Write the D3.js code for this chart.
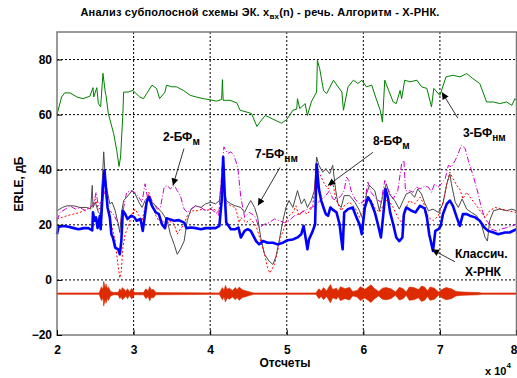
<!DOCTYPE html>
<html>
<head>
<meta charset="utf-8">
<script src="https://cdn.jsdelivr.net/npm/d3@7/dist/d3.min.js"></script>
<style>
    body { margin: 0; background: #fff; }
    text { font-family: "Liberation Sans", Arial, sans-serif; }
</style>
</head>
<body>
<script>
    // x in units of 10^4 samples, y in dB
    var xTicks = [2, 3, 4, 5, 6, 7, 8];
    var yTicks = [-20, 0, 20, 40, 60, 80];

    // 3-БФнм
    var green = [[2.00,60],[2.06,66.4],[2.10,67.9],[2.17,67.9],[2.26,66.4],[2.34,65.8],[2.43,66.7],[2.47,69.8],[2.48,66.4],[2.52,69.8],[2.54,64],[2.57,62.8],[2.60,75],[2.63,68.2],[2.64,67],[2.67,60.4],[2.74,53.1],[2.78,47],[2.81,41.2],[2.83,44.6],[2.86,60.4],[2.87,68.2],[2.93,68.2],[2.99,68.8],[3.08,66.4],[3.13,65.8],[3.17,67.6],[3.24,70.7],[3.30,69.5],[3.34,65.8],[3.41,68.2],[3.43,70.7],[3.50,70.1],[3.56,70.1],[3.65,68.8],[3.74,67],[3.82,66.4],[3.91,65.8],[4.00,65.4],[4.08,64.9],[4.15,65.5],[4.16,72.7],[4.17,65.2],[4.26,65.2],[4.35,64.2],[4.39,61.6],[4.48,60.9],[4.54,60.4],[4.61,55.7],[4.65,57.3],[4.72,59.7],[4.78,58.9],[4.87,57.7],[4.93,56.9],[5.00,58.2],[5.08,61.6],[5.13,62],[5.14,65.8],[5.17,62.2],[5.24,64],[5.27,59.7],[5.32,64.6],[5.39,68.2],[5.40,79.7],[5.43,76.7],[5.48,68.8],[5.52,67.6],[5.61,72.5],[5.67,70.1],[5.72,68.2],[5.74,61.6],[5.80,70.1],[5.87,72.5],[5.93,71.3],[5.98,72.5],[6.04,70.1],[6.11,70.7],[6.16,66.4],[6.22,61.6],[6.25,57.3],[6.28,72.5],[6.33,68.8],[6.39,64.6],[6.43,64],[6.48,68.8],[6.50,65.8],[6.54,72.5],[6.61,71.9],[6.70,72.5],[6.76,70.1],[6.83,69.5],[6.89,62.8],[6.92,69.5],[7.00,67],[7.08,73.7],[7.17,74.3],[7.26,73.7],[7.35,74.9],[7.43,73.1],[7.52,71.3],[7.61,64.6],[7.70,64.6],[7.78,64],[7.87,64.6],[7.94,63.4],[7.98,65.8],[8.00,65.2]];

    // Классич. X-РНК
    var blue = [[2.00,16.6],[2.02,19.3],[2.09,19.6],[2.15,19.3],[2.22,18.8],[2.28,18.4],[2.35,18.8],[2.41,18.8],[2.46,18.0],[2.47,24.5],[2.49,21.5],[2.51,22.7],[2.53,18.8],[2.56,23.3],[2.57,18.4],[2.60,33.7],[2.62,39.8],[2.64,33],[2.66,26.3],[2.69,22.7],[2.71,16.6],[2.73,15.4],[2.76,11.7],[2.80,11.1],[2.82,9.3],[2.84,14.1],[2.86,25.1],[2.89,23.9],[2.92,22.1],[2.97,23.3],[3.01,22.7],[3.04,21.5],[3.09,22.1],[3.12,17.8],[3.15,23.9],[3.17,28.2],[3.20,30],[3.24,26.9],[3.29,24.5],[3.33,23.9],[3.37,20.2],[3.41,18.8],[3.43,22.4],[3.46,22.1],[3.53,21.5],[3.59,21.7],[3.66,20.8],[3.69,18.8],[3.75,19],[3.81,18.8],[3.88,18.4],[3.94,18.8],[4.01,18.8],[4.07,18.8],[4.12,19.6],[4.15,28.8],[4.17,44.6],[4.19,31.2],[4.21,20.8],[4.27,18.4],[4.33,18.4],[4.37,19],[4.40,15.4],[4.45,17.8],[4.49,18.4],[4.53,17.8],[4.60,14.1],[4.64,12.9],[4.69,14.1],[4.75,13.5],[4.82,13.5],[4.88,12.9],[4.95,13.5],[5.01,14.4],[5.08,14.7],[5.14,15.4],[5.19,16.6],[5.22,19.6],[5.25,14.7],[5.27,11.1],[5.29,14.7],[5.34,17.8],[5.37,20.2],[5.39,42],[5.42,33],[5.45,28.8],[5.48,26.3],[5.51,23.9],[5.54,23.3],[5.57,26.3],[5.60,25.5],[5.65,24.5],[5.69,20.2],[5.71,15.4],[5.73,11.1],[5.75,24.5],[5.80,25.7],[5.86,26.3],[5.91,22.7],[5.95,20.2],[5.98,16.6],[6.02,26.3],[6.06,30],[6.10,28.2],[6.15,24.5],[6.19,20.2],[6.23,15.4],[6.27,26.3],[6.29,33],[6.32,30],[6.35,24.5],[6.39,20.2],[6.43,15.4],[6.47,14.1],[6.51,15.4],[6.53,23.9],[6.56,26.3],[6.63,25.1],[6.68,24.5],[6.74,26.9],[6.80,26],[6.83,22.7],[6.86,16.6],[6.89,12.9],[6.91,10.5],[6.94,17.8],[6.98,18.4],[7.01,19.6],[7.04,23.9],[7.09,27.6],[7.13,28.8],[7.17,26.9],[7.22,22.7],[7.26,19.6],[7.30,23.9],[7.35,23.9],[7.39,23.3],[7.46,22.7],[7.52,21.5],[7.58,19],[7.63,17.8],[7.70,17.2],[7.76,16.6],[7.85,17.2],[7.91,17.2],[8.00,18.4]];

    // 7-БФнм
    var gray = [[2.00,25.1],[2.07,26.3],[2.13,26.9],[2.22,26.9],[2.30,26.3],[2.39,26.3],[2.44,25.7],[2.46,34.3],[2.47,26.3],[2.50,28.2],[2.54,24.5],[2.57,23.9],[2.61,46.5],[2.63,37.3],[2.65,33],[2.69,27.6],[2.72,28.2],[2.76,25.1],[2.80,20.2],[2.82,17.2],[2.84,23.9],[2.87,28.8],[2.91,30],[2.98,32.4],[3.02,31.2],[3.07,28.2],[3.11,26.3],[3.15,28.8],[3.20,30.6],[3.24,28.2],[3.31,26.3],[3.37,24.5],[3.44,21.5],[3.48,16.6],[3.53,12.9],[3.57,9.3],[3.61,11.1],[3.66,14.1],[3.70,21.5],[3.75,25.7],[3.81,26.9],[3.88,26.3],[3.94,27.6],[4.01,28.2],[4.07,27.6],[4.12,28.8],[4.16,38.5],[4.18,33.7],[4.21,28.8],[4.27,27.6],[4.33,26.9],[4.40,26.3],[4.45,24.5],[4.49,26.9],[4.53,28.8],[4.58,26.3],[4.62,22.7],[4.66,15.4],[4.71,9.3],[4.77,6.8],[4.82,5.6],[4.86,8.6],[4.90,14.1],[4.95,21.5],[4.99,26.3],[5.03,28.8],[5.08,26.3],[5.14,32.4],[5.19,27.6],[5.23,29.4],[5.27,26.3],[5.32,28.8],[5.36,32.4],[5.39,44.6],[5.42,41.6],[5.47,39.1],[5.51,40.4],[5.56,38.5],[5.60,41.6],[5.64,32.4],[5.67,27.6],[5.71,26.3],[5.75,30.6],[5.82,30.6],[5.89,28.2],[5.95,25.1],[6.00,21.5],[6.04,31.2],[6.08,34.3],[6.15,32.4],[6.21,25.1],[6.27,32.4],[6.30,34.9],[6.34,31.2],[6.41,28.8],[6.47,25.7],[6.52,28.8],[6.56,31.2],[6.61,31.8],[6.67,30],[6.71,33],[6.76,31.2],[6.80,28],[6.85,25.1],[6.91,25.7],[6.98,24.5],[7.04,27.6],[7.09,34.9],[7.13,38.5],[7.15,34.9],[7.20,28.2],[7.24,26.3],[7.29,29.4],[7.35,25.7],[7.41,24.5],[7.48,23.3],[7.54,20.2],[7.59,15.4],[7.62,14.1],[7.65,21.5],[7.70,25.1],[7.78,25.7],[7.87,25.1],[7.94,25.7],[8.00,25.1]];

    // 8-БФм
    var red = [[2.00,22.1],[2.07,22.7],[2.13,23.3],[2.22,23.9],[2.30,24.5],[2.39,25.7],[2.46,26.9],[2.50,29.4],[2.54,25.7],[2.59,26.3],[2.62,39.1],[2.64,30],[2.67,24.5],[2.72,19],[2.76,14.1],[2.79,6.8],[2.82,0.7],[2.84,3.2],[2.86,11.7],[2.89,16.6],[2.94,20.2],[2.98,23.9],[3.02,25.7],[3.07,23.3],[3.11,21.5],[3.15,26.3],[3.20,31.8],[3.24,27.6],[3.29,23.3],[3.33,21.5],[3.37,22.1],[3.42,19],[3.46,21.5],[3.53,20.2],[3.57,16.6],[3.61,18.4],[3.66,20.2],[3.70,23.3],[3.77,25.1],[3.83,25.1],[3.90,25.7],[3.96,25.1],[4.03,26.3],[4.09,24.5],[4.14,26.9],[4.17,36.1],[4.20,28.2],[4.27,26.9],[4.33,26.3],[4.38,20.8],[4.40,22.7],[4.47,20.8],[4.53,22.1],[4.60,19.6],[4.66,14.1],[4.71,9.3],[4.75,4.4],[4.78,2.5],[4.84,5.6],[4.88,10.5],[4.92,15.4],[4.97,19],[5.01,22.7],[5.08,24.5],[5.12,26.9],[5.16,23.3],[5.21,25.1],[5.27,23.9],[5.34,26.9],[5.39,41],[5.45,37.3],[5.49,34.9],[5.54,33],[5.60,35.5],[5.64,29.4],[5.67,27.6],[5.71,25.1],[5.75,26.9],[5.82,28.2],[5.89,26.3],[5.95,22.7],[6.00,25.1],[6.04,29.4],[6.08,30],[6.15,26.3],[6.21,24.5],[6.28,28.2],[6.32,29.4],[6.39,26.3],[6.45,22.7],[6.50,20.8],[6.54,25.1],[6.60,28.8],[6.67,27.6],[6.74,30],[6.80,27],[6.85,22.7],[6.91,21.5],[6.98,23.3],[7.04,28.2],[7.09,34.9],[7.13,39.1],[7.17,36.8],[7.22,34.3],[7.26,33],[7.30,29.4],[7.35,31.8],[7.41,29.4],[7.48,26.9],[7.54,24.5],[7.59,22.7],[7.65,25.1],[7.72,26.3],[7.81,25.7],[7.89,25.1],[8.00,24.5]];

    // 2-БФм
    var magenta = [[2.00,21.5],[2.04,24.5],[2.11,25.7],[2.17,26.9],[2.24,25.7],[2.30,26.3],[2.37,25.1],[2.44,26.3],[2.48,27.6],[2.51,31.8],[2.54,26.9],[2.59,28.8],[2.63,32.4],[2.67,25.1],[2.72,24.5],[2.78,21.5],[2.83,20.8],[2.87,26.3],[2.91,31.8],[2.98,32.4],[3.04,31.2],[3.11,28.2],[3.15,34.9],[3.18,30],[3.20,31.2],[3.24,28.8],[3.31,25.7],[3.35,26.3],[3.40,33.7],[3.44,34.3],[3.48,33],[3.53,34.3],[3.57,32.4],[3.61,30.6],[3.66,25.7],[3.70,24.5],[3.75,25.7],[3.81,26.9],[3.88,26.3],[3.94,25.1],[4.01,25.7],[4.07,24.5],[4.11,23.3],[4.16,42.2],[4.18,48.3],[4.23,45.9],[4.27,46.5],[4.31,45.2],[4.36,41],[4.40,30],[4.45,22.7],[4.51,24.5],[4.58,23.3],[4.64,19],[4.71,20.2],[4.77,20.8],[4.84,22.1],[4.90,21.5],[4.97,20.8],[5.03,21.5],[5.10,23.3],[5.16,23.9],[5.23,25.1],[5.32,26.3],[5.38,26.9],[5.43,28.8],[5.49,30],[5.56,32.4],[5.60,29.5],[5.65,28.8],[5.71,30.6],[5.75,32.4],[5.78,37.3],[5.81,36.1],[5.84,32.4],[5.89,29.4],[5.95,27.6],[6.02,28.8],[6.06,35.5],[6.10,31.8],[6.17,29.4],[6.23,28.2],[6.28,36.1],[6.32,33],[6.39,29.4],[6.45,32.4],[6.50,42.2],[6.53,43.4],[6.55,32.4],[6.60,32.4],[6.65,31.8],[6.69,33.7],[6.74,33],[6.80,34],[6.85,33.7],[6.89,31.8],[6.93,34.9],[6.98,33.7],[7.02,34.9],[7.07,36.8],[7.11,41.6],[7.15,41],[7.20,43.4],[7.24,45.9],[7.28,48.9],[7.33,47.7],[7.37,43.4],[7.44,37.3],[7.50,31.2],[7.54,26.3],[7.59,22.1],[7.63,20.8],[7.67,18.4],[7.74,17.8],[7.80,18.4],[7.87,19],[7.94,19.6],[8.00,20.2]];

    // входной речевой сигнал: огибающая вокруг уровня -5 дБ
    var speechLevel = -5;
    var speech = [[2.00,0.25],[2.55,0.25],[2.58,2.5],[2.60,1.5],[2.61,4.5],[2.63,2.0],[2.64,3.5],[2.66,1.6],[2.67,2.5],[2.70,0.8],[2.74,0.4],[2.80,0.5],[2.82,1.8],[2.84,1.0],[2.85,2.2],[2.88,1.5],[2.90,0.8],[2.92,1.8],[2.95,0.6],[2.97,1.8],[2.99,1.5],[3.01,0.4],[3.13,0.4],[3.16,1.8],[3.19,1.0],[3.21,2.6],[3.23,1.4],[3.26,1.5],[3.29,0.4],[4.12,0.25],[4.16,2.2],[4.18,1.2],[4.20,3.0],[4.22,1.6],[4.25,2.0],[4.29,1.2],[4.33,2.2],[4.35,1.4],[4.38,2.4],[4.42,1.4],[4.45,1.2],[4.52,0.6],[4.57,0.25],[5.38,0.25],[5.42,1.8],[5.45,1.0],[5.48,2.2],[5.52,1.0],[5.55,2.4],[5.57,3.3],[5.60,1.5],[5.65,2.0],[5.67,1.0],[5.70,2.5],[5.76,1.8],[5.82,2.3],[5.86,0.8],[5.92,1.2],[5.96,2.5],[6.02,1.6],[6.07,2.6],[6.10,3.2],[6.14,2.0],[6.20,0.8],[6.25,2.0],[6.30,2.2],[6.36,1.8],[6.42,0.6],[6.47,2.3],[6.52,1.8],[6.56,0.6],[6.60,2.4],[6.66,2.2],[6.72,1.5],[6.76,2.8],[6.80,2.4],[6.84,1.0],[6.87,2.4],[6.93,2.0],[6.98,0.6],[7.03,1.6],[7.08,2.2],[7.15,1.8],[7.21,0.8],[7.30,0.6],[7.50,0.4],[7.55,0.25],[8.00,0.25]];

    // подписи: текст, индекс, точка текста, начало и конец стрелки
    var labels = [
        {main: "2-БФ", sub: "м",  at: [3.384, 50.6], from: [3.658, 47.7], to: [3.514, 34.3]},
        {main: "7-БФ", sub: "нм", at: [4.585, 44.1], from: [4.911, 40.8], to: [4.624, 27.0]},
        {main: "8-БФ", sub: "м",  at: [6.125, 48.8], from: [6.125, 46.3], to: [5.538, 34.3]},
        {main: "3-БФ", sub: "нм", at: [7.300, 51.7], from: [7.235, 58.7], to: [7.026, 68.1]},
        {main: "Классич.", sub: "", at: [7.196, 8.1], from: [7.196, 6.6], to: [6.896, 11.0]},
        {main: "X-РНК", sub: "", at: [7.326, 1.6], from: null, to: null}
    ];

    var width = 517, height = 378;
    var margin = {top: 32, right: 0.5, bottom: 43, left: 57};

    var svg = d3.select("body").append("svg")
        .attr("width", width)
        .attr("height", height);

    var x = d3.scaleLinear().domain([2, 8]).range([margin.left, width - margin.right]);
    var y = d3.scaleLinear().domain([-20, 90]).range([height - margin.bottom, margin.top]);

    svg.append("defs").append("marker")
        .attr("id", "arrow")
        .attr("viewBox", "0 0 10 10")
        .attr("refX", 10).attr("refY", 5)
        .attr("markerWidth", 9).attr("markerHeight", 7)
        .attr("markerUnits", "userSpaceOnUse")
        .attr("orient", "auto")
        .append("path")
        .attr("d", "M0,0 L10,5 L0,10 Z")
        .attr("fill", "#000");

    //grid
    svg.append("g")
        .selectAll("line")
        .data(xTicks.slice(1, -1))
        .enter().append("line")
        .attr("x1", d => x(d)).attr("x2", d => x(d))
        .attr("y1", y(90)).attr("y2", y(-20))
        .attr("stroke", "#000").attr("stroke-dasharray", "2,2");

    svg.append("g")
        .selectAll("line")
        .data(yTicks.slice(1))
        .enter().append("line")
        .attr("x1", x(2)).attr("x2", x(8))
        .attr("y1", d => y(d)).attr("y2", d => y(d))
        .attr("stroke", "#000").attr("stroke-dasharray", "2,2");

    //speech
    svg.append("path")
        .datum(speech)
        .attr("fill", "#dd2a00")
        .attr("stroke", "#dd2a00")
        .attr("stroke-width", 0.6)
        .attr("d", d3.area()
            .x(d => x(d[0]))
            .y0(d => y(speechLevel - d[1]))
            .y1(d => y(speechLevel + d[1])));

    var line = d3.line().x(d => x(d[0])).y(d => y(d[1]));

    var series = [
        {data: green, color: "#008000", w: 1, dash: null},
        {data: gray, color: "#4a4a4a", w: 1, dash: null},
        {data: red, color: "#ff0000", w: 1, dash: "2,2"},
        {data: magenta, color: "#cc00cc", w: 1, dash: "6,2,1,2"},
        {data: blue, color: "#0000ff", w: 2.6, dash: null}
    ];

    svg.append("g")
        .selectAll("path")
        .data(series)
        .enter().append("path")
        .attr("d", d => line(d.data))
        .attr("fill", "none")
        .attr("stroke", d => d.color)
        .attr("stroke-width", d => d.w)
        .attr("stroke-dasharray", d => d.dash)
        .attr("stroke-linejoin", "round");

    //axes box
    svg.append("rect")
        .attr("x", x(2)).attr("y", y(90))
        .attr("width", x(8) - x(2)).attr("height", y(-20) - y(90))
        .attr("fill", "none")
        .attr("stroke", "#7a7a7a")
        .attr("stroke-width", 1.5);

    var xAxis = svg.append("g")
        .attr("transform", "translate(0," + y(-20) + ")")
        .call(d3.axisBottom(x).tickValues(xTicks).tickSize(-5).tickPadding(10).tickFormat(d3.format("d")));
    var yAxis = svg.append("g")
        .attr("transform", "translate(" + x(2) + ",0)")
        .call(d3.axisLeft(y).tickValues(yTicks).tickSize(-5).tickPadding(5));

    [xAxis, yAxis].forEach(function(a) {
        a.select(".domain").remove();
        a.selectAll("line").attr("stroke", "#000");
        a.selectAll("text")
            .attr("fill", "#000")
            .style("font-size", "12px")
            .style("font-weight", "bold")
            .style("font-family", "Liberation Sans, Arial, sans-serif");
    });
    // последняя метка в оригинале прижата к правому краю
    xAxis.selectAll(".tick text").filter(d => d == 8).attr("dx", -3);

    //labels with arrows
    labels.forEach(function(l) {
        if (l.from) {
            svg.append("line")
                .attr("x1", x(l.from[0])).attr("y1", y(l.from[1]))
                .attr("x2", x(l.to[0])).attr("y2", y(l.to[1]))
                .attr("stroke", "#000").attr("stroke-width", 0.8)
                .attr("marker-end", "url(#arrow)");
        }
        var t = svg.append("text")
            .attr("x", x(l.at[0])).attr("y", y(l.at[1]))
            .style("font-size", "12px")
            .style("font-weight", "bold");
        t.append("tspan").text(l.main);
        if (l.sub) {
            t.append("tspan").attr("dy", 4).style("font-size", "10px").text(l.sub);
        }
    });

    //title
    var title = svg.append("text")
        .attr("x", 260).attr("y", 16)
        .attr("text-anchor", "middle")
        .style("font-size", "11px")
        .style("font-weight", "bold")
        .style("letter-spacing", "0.2px");
    title.append("tspan").text("Анализ субполосной схемы ЭК. x");
    title.append("tspan").attr("dy", 3).style("font-size", "8px").text("вх");
    title.append("tspan").attr("dy", -3).text("(n) - речь. Алгоритм - X-РНК.");

    svg.append("text")
        .attr("x", 285).attr("y", 367)
        .attr("text-anchor", "middle")
        .style("font-size", "12px")
        .style("font-weight", "bold")
        .text("Отсчеты");

    svg.append("text")
        .attr("transform", "translate(23," + 184 + ") rotate(-90)")
        .attr("text-anchor", "middle")
        .style("font-size", "12px")
        .style("font-weight", "bold")
        .text("ERLE, дБ");

    var mult = svg.append("text")
        .attr("x", 485).attr("y", 375)
        .style("font-size", "11px")
        .style("font-weight", "bold");
    mult.append("tspan").text("x 10");
    mult.append("tspan").attr("dy", -7).style("font-size", "8px").text("4");
</script>
</body>
</html>
